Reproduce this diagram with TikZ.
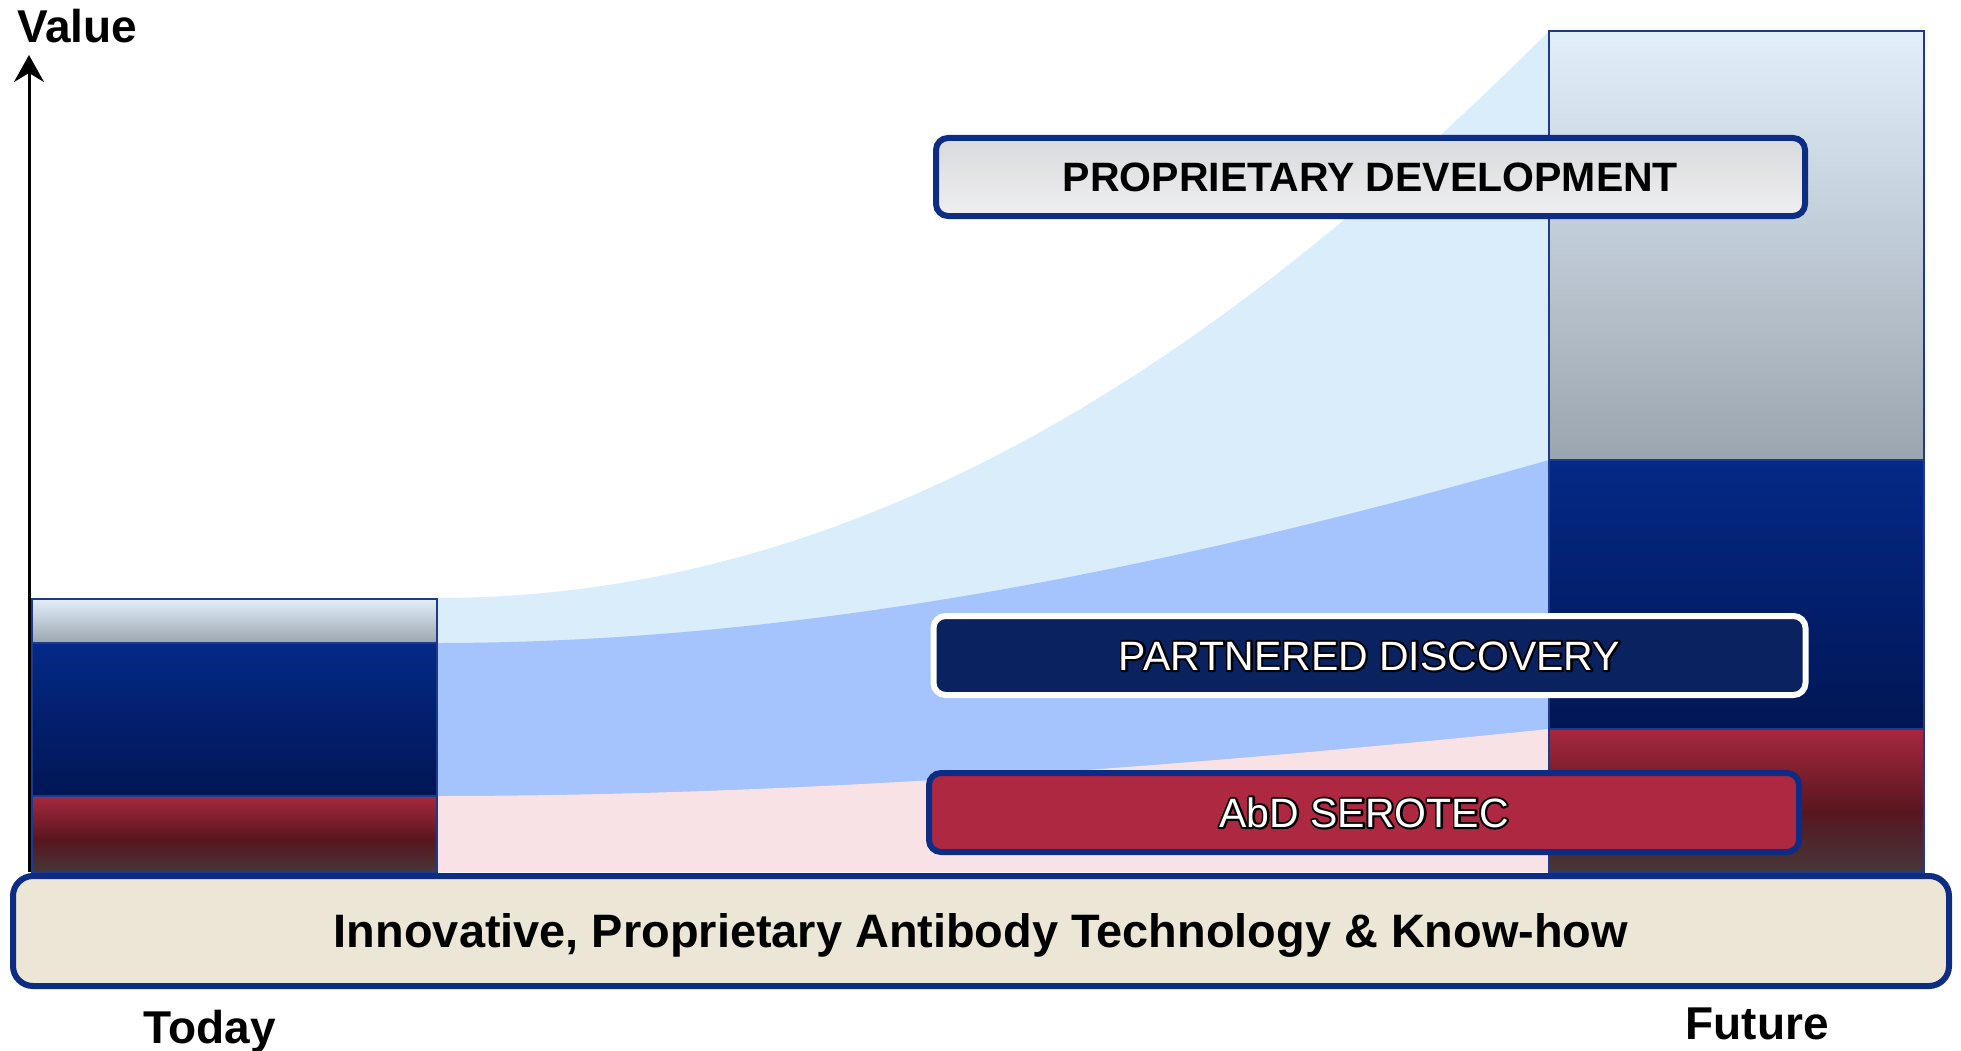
\documentclass[tikz,border=0pt]{standalone}
\usepackage{fontspec}
\setmainfont{Liberation Sans}
\usetikzlibrary{arrows.meta}

% palette
\definecolor{frameblue}{HTML}{0D2C84}
\definecolor{barline}{HTML}{1D3A8C}
\definecolor{bandlight}{HTML}{D9EDFB}
\definecolor{bandmid}{HTML}{A5C3FC}
\definecolor{bandpink}{HTML}{F8E2E6}
\definecolor{greytop}{HTML}{E2EFFB}
\definecolor{greybot}{HTML}{9BA5AF}
\definecolor{navytop}{HTML}{042987}
\definecolor{navybot}{HTML}{011654}
\definecolor{redtop}{HTML}{A8283F}
\definecolor{redmid}{HTML}{57161F}
\definecolor{redbot}{HTML}{463739}
\definecolor{partnerfill}{HTML}{0B2260}
\definecolor{serotecfill}{HTML}{AF2842}
\definecolor{basefill}{HTML}{ECE6D7}
\definecolor{proptop}{HTML}{D9DADE}
\definecolor{propbot}{HTML}{EFEFF0}

\pgfdeclareverticalshading{redsection}{100bp}{%
  color(0bp)=(redbot); color(25bp)=(redbot); color(46bp)=(redmid);
  color(75bp)=(redtop); color(100bp)=(redtop)}

% white letters with a black outline: a stroke-only pass under the filled letters
\newcommand{\outlinedtext}[1]{%
  \rlap{\special{pdf:code 1 Tr 4 w 1 j 0 G}#1\special{pdf:code 0 Tr}}#1}

\tikzset{
  greysec/.style={top color=greytop, bottom color=greybot, draw=barline, line width=2pt},
  navysec/.style={top color=navytop, bottom color=navybot, draw=barline, line width=2pt},
  redsec/.style={shading=redsection, draw=barline, line width=2pt},
  stagebox/.style={rectangle, rounded corners=12pt, line width=6pt, inner sep=0pt,
    text height=29.4pt, text depth=0pt},
  boldlabel/.style={font=\fontsize{46pt}{46pt}\selectfont\bfseries, inner sep=0pt},
}

\begin{document}
\begin{tikzpicture}[x=1pt,y=-1pt]
\useasboundingbox (0,0) rectangle (1961,1051);

% value bands growing from today to the future
\fill[bandlight] (45,598) -- (437,598) .. controls (887,598) and (1249,331) .. (1549,31)
  -- (1555,31) -- (1555,872) -- (45,872) -- cycle;
\fill[bandmid] (45,643) -- (437,643) .. controls (850,643) and (1250,545) .. (1549,460)
  -- (1555,460) -- (1555,872) -- (45,872) -- cycle;
\fill[bandpink] (45,796) -- (437,796) .. controls (800,796) and (1200,765) .. (1549,729)
  -- (1555,729) -- (1555,872) -- (45,872) -- cycle;

% today column
\path[greysec] (32,599) rectangle (437,643);
\path[navysec] (32,643) rectangle (437,796);
\path[redsec]  (32,796) rectangle (437,872);

% future column
\path[greysec] (1549,31) rectangle (1924,460);
\path[navysec] (1549,460) rectangle (1924,729);
\path[redsec]  (1549,729) rectangle (1924,872);

% value axis
\coordinate (origin) at (29,872);
\coordinate (vtop) at (29,55);
\draw[line width=3pt, -{Stealth[length=27pt,width=30pt,inset=9pt]}] (origin) -- (vtop);
\node[boldlabel, anchor=base west] (value) at (17,43) {Value};

% business lines
\node[stagebox, draw=frameblue, top color=proptop, bottom color=propbot,
      minimum width=869pt, minimum height=78pt,
      font=\fontsize{41pt}{41pt}\selectfont\bfseries]
  (prop) at (1370.5,177) {PROPRIETARY DEVELOPMENT};
\node[stagebox, draw=white, fill=partnerfill, text=white,
      minimum width=872pt, minimum height=79pt,
      font=\fontsize{41pt}{41pt}\selectfont]
  (partner) at (1369.5,655.5) {\outlinedtext{PARTNERED DISCOVERY}};
\node[stagebox, draw=frameblue, fill=serotecfill, text=white,
      minimum width=870pt, minimum height=79pt,
      font=\fontsize{41pt}{41pt}\selectfont]
  (serotec) at (1364,812.5) {\outlinedtext{AbD SEROTEC}};

% technology platform
\node[rectangle, rounded corners=20pt, line width=6pt, draw=frameblue, fill=basefill,
      minimum width=1936pt, minimum height=110pt, inner sep=0pt,
      text height=33.5pt, text depth=0pt,
      font=\fontsize{46.9pt}{46.9pt}\selectfont\bfseries]
  (platform) at (981,931) {Innovative, Proprietary Antibody Technology \& Know-how};

% time labels
\node[boldlabel, anchor=base] (today) at (210,1043) {Today};
\node[boldlabel, anchor=base] (future) at (1757,1039) {Future};
\end{tikzpicture}
\end{document}
